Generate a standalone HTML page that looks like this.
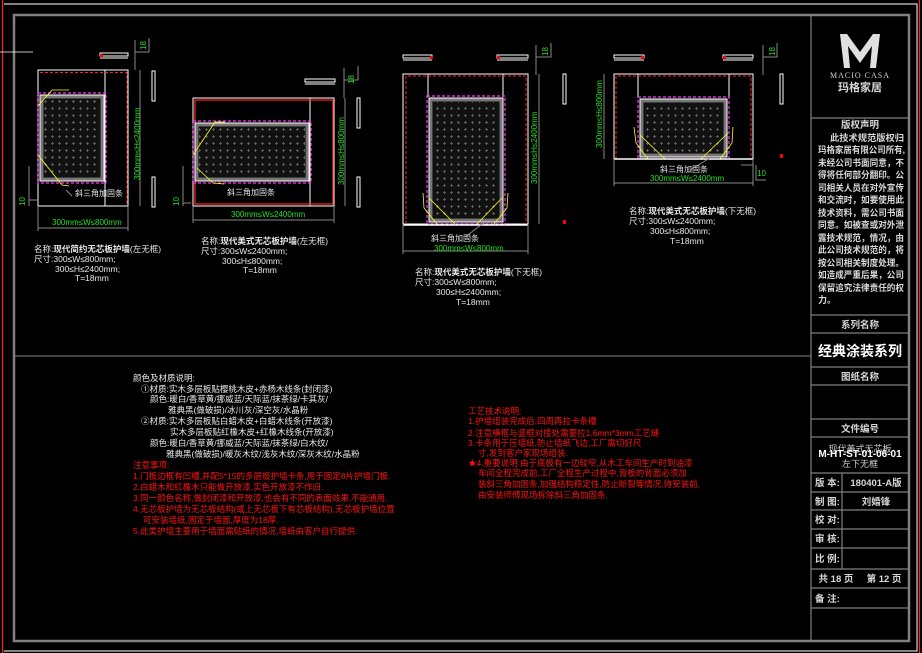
<!DOCTYPE html>
<html><head><meta charset="utf-8"><style>
html,body{margin:0;padding:0;background:#000;}
svg{display:block;}
text{font-family:"Liberation Sans","Noto Sans CJK SC",sans-serif;}
.w{fill:#e8e8e8;font-size:8.5px;}
.r{fill:#ff1010;font-size:8.5px;}
.g{fill:#20e020;font-size:8px;}
.t{fill:#d8d8d8;font-size:9.5px;font-weight:bold;}
</style></head><body>
<svg width="922" height="653" viewBox="0 0 922 653" xmlns="http://www.w3.org/2000/svg">
<defs>
<pattern id="dots" width="7" height="7" patternUnits="userSpaceOnUse">
<rect width="7" height="7" fill="#111"/>
<path d="M3.5 2V5M2 3.5H5" stroke="#6a6a6a" stroke-width="0.8"/>
</pattern>
</defs>
<rect width="922" height="653" fill="#000"/>
<!-- outer frame -->
<line x1="2.5" y1="0" x2="2.5" y2="653" stroke="#ff2020" stroke-width="1.2"/>
<polyline points="4,4 917,4 917,651 4,651" fill="none" stroke="#fff" stroke-width="1"/>
<line x1="919.5" y1="0" x2="919.5" y2="653" stroke="#ff2020" stroke-width="1.2"/>
<rect x="14" y="15" width="895" height="626" fill="none" stroke="#808080" stroke-width="2.5"/>
<line x1="14" y1="356" x2="811" y2="356" stroke="#808080" stroke-width="1"/>
<line x1="0" y1="52" x2="33" y2="52" stroke="#fff" stroke-width="0.8"/>
<!-- title block -->
<g stroke="#808080" stroke-width="1.2" fill="none">
<line x1="811" y1="15" x2="811" y2="641"/>
<line x1="811" y1="118" x2="909" y2="118"/>
<line x1="811" y1="315" x2="909" y2="315"/>
<line x1="811" y1="333" x2="909" y2="333"/>
<line x1="811" y1="367" x2="909" y2="367"/>
<line x1="811" y1="385" x2="909" y2="385"/>
<line x1="811" y1="419" x2="909" y2="419"/>
<line x1="811" y1="437" x2="909" y2="437"/>
<line x1="811" y1="473" x2="909" y2="473"/>
<line x1="811" y1="492" x2="909" y2="492"/>
<line x1="811" y1="510" x2="909" y2="510"/>
<line x1="811" y1="529" x2="909" y2="529"/>
<line x1="811" y1="548" x2="909" y2="548"/>
<line x1="811" y1="569" x2="909" y2="569"/>
<line x1="811" y1="588" x2="909" y2="588"/>
<line x1="811" y1="608" x2="909" y2="608"/>
<line x1="842" y1="473" x2="842" y2="569"/>
</g>
<!-- logo -->
<g fill="#e0e0e0">
<polygon points="840,34 847,34 860,52 873,34 880,34 876,68 870,68 872,46 860,63 848,46 850,68 844,68"/>
</g>
<text x="860" y="78" text-anchor="middle" fill="#d0d0d0" style="font-family:'Liberation Serif',serif;font-size:8px;letter-spacing:1px">MACIO CASA</text>
<text x="860" y="91" text-anchor="middle" class="t" style="font-size:11px">玛格家居</text>
<text x="860" y="128" text-anchor="middle" class="t">版权声明</text>
<g class="t" style="font-size:9px">
<text x="830" y="141" textLength="74" lengthAdjust="spacingAndGlyphs">此技术规范版权归</text>
<text x="818" y="153" textLength="87" lengthAdjust="spacingAndGlyphs">玛格家居有限公司所有,</text>
<text x="818" y="166" textLength="86" lengthAdjust="spacingAndGlyphs">未经公司书面同意，不</text>
<text x="818" y="178" textLength="86" lengthAdjust="spacingAndGlyphs">得将任何部分翻印。公</text>
<text x="818" y="191" textLength="86" lengthAdjust="spacingAndGlyphs">司相关人员在对外宣传</text>
<text x="818" y="203" textLength="86" lengthAdjust="spacingAndGlyphs">和交流时，如要使用此</text>
<text x="818" y="216" textLength="86" lengthAdjust="spacingAndGlyphs">技术资料，需公司书面</text>
<text x="818" y="228" textLength="86" lengthAdjust="spacingAndGlyphs">同意。如被查或对外泄</text>
<text x="818" y="241" textLength="86" lengthAdjust="spacingAndGlyphs">露技术规范，情况，由</text>
<text x="818" y="253" textLength="86" lengthAdjust="spacingAndGlyphs">此公司技术规范的，将</text>
<text x="818" y="266" textLength="86" lengthAdjust="spacingAndGlyphs">按公司相关制度处理。</text>
<text x="818" y="278" textLength="86" lengthAdjust="spacingAndGlyphs">如造成严重后果，公司</text>
<text x="818" y="291" textLength="86" lengthAdjust="spacingAndGlyphs">保留追究法律责任的权</text>
<text x="818" y="303">力。</text>
</g>
<text x="860" y="328" text-anchor="middle" class="t">系列名称</text>
<text x="860" y="356" text-anchor="middle" fill="#fff" style="font-size:14px;font-weight:bold">经典涂装系列</text>
<text x="860" y="380" text-anchor="middle" class="t">图纸名称</text>
<text x="860" y="432" text-anchor="middle" class="t">文件编号</text>
<text x="860" y="452" text-anchor="middle" fill="#d0d0d0" style="font-size:9px">现代美式无芯板</text>
<text x="860" y="457" text-anchor="middle" fill="#fff" style="font-size:10px;font-weight:bold">M-HT-ST-01-06-01</text>
<text x="860" y="467" text-anchor="middle" fill="#d0d0d0" style="font-size:9px">左下无框</text>
<g class="t">
<text x="815" y="486">版 本:</text><text x="876" y="486" text-anchor="middle">180401-A版</text>
<text x="815" y="505">制 图:</text><text x="876" y="505" text-anchor="middle">刘婚锋</text>
<text x="815" y="523">校 对:</text>
<text x="815" y="542">审 核:</text>
<text x="815" y="562">比 例:</text>
<text x="860" y="582" text-anchor="middle">共 18 页 &#160;&#160;&#160; 第 12 页</text>
<text x="815" y="602">备 注:</text>
</g>

<!-- ===== Drawing 1 ===== -->
<g fill="none">
<rect x="38" y="70" width="90" height="136" stroke="#fff" stroke-width="1"/>
<line x1="105" y1="70" x2="105" y2="206" stroke="#fff"/>
<polyline points="40,72.5 127,72.5 127,205" stroke="#ff2020" stroke-dasharray="3,2"/>
<rect x="38" y="93" width="68" height="90" stroke="#ff30ff" stroke-dasharray="3,2" stroke-width="1.2"/>
<rect x="40" y="95" width="64" height="86" stroke="#fff"/>
<rect x="42" y="97" width="60" height="82" fill="#000" stroke="#777" stroke-width="3"/>
<rect x="44" y="99" width="56" height="78" fill="url(#dots)"/>
<path d="M38,106 L52,90 L69,90 M38,155 L62,185 L69,186" stroke="#ffff20" stroke-width="0.8"/>
<line x1="140" y1="70" x2="140" y2="206" stroke="#888"/>
<line x1="38" y1="228" x2="128" y2="228" stroke="#888"/>
<line x1="38" y1="206" x2="38" y2="231" stroke="#888"/>
<line x1="128" y1="206" x2="128" y2="231" stroke="#888"/>
<path d="M100,53 h28 v3 h-28z M100,58 h28" stroke="#fff"/>
<path d="M135,40 v30 M135,52 h14 v-14" stroke="#888"/>
<path d="M152,71 v30 h3 v-30z M152,177 v30 h3 v-30z" stroke="#fff"/>
<path d="M29,206 v-40 M29,200 h8" stroke="#888"/>
<path d="M72,196 l-6,-6" stroke="#888"/>
</g>
<rect x="100" y="54" width="3" height="3" fill="#f00"/>
<text x="138" y="42" class="g" transform="rotate(-90 146 42)">18</text>
<text class="g" x="0" y="0" transform="translate(140,180) rotate(-90)">300mm≤H≤2400mm</text>
<text x="52" y="225" class="g">300mm≤W≤800mm</text>
<text x="75" y="196" class="w" style="font-size:8px">斜三角加固条</text>
<text x="25" y="206" class="g" transform="rotate(-90 25 206)">10</text>
<text x="34" y="252" class="w">名称:<tspan font-weight="bold">现代简约无芯板护墙</tspan>(左无框)</text>
<text x="34" y="262" class="w">尺寸:300≤W≤800mm;</text>
<text x="55" y="272" class="w">300≤H≤2400mm;</text>
<text x="75" y="281" class="w">T=18mm</text>

<!-- ===== Drawing 2 ===== -->
<g fill="none">
<rect x="193" y="98" width="141" height="108" stroke="#fff"/>
<line x1="310" y1="98" x2="310" y2="206" stroke="#fff"/>
<rect x="195" y="100" width="138" height="104" stroke="#ff2020" stroke-width="1.2"/>
<rect x="193" y="121" width="118" height="62" stroke="#ff30ff" stroke-dasharray="3,2" stroke-width="1.2"/>
<rect x="195" y="123" width="114" height="58" stroke="#fff"/>
<rect x="197" y="125" width="110" height="54" fill="#000" stroke="#777" stroke-width="3"/>
<rect x="199" y="127" width="106" height="50" fill="url(#dots)"/>
<path d="M193,155 L215,122 L225,122 M197,168 L213,183 L224,184" stroke="#ffff20" stroke-width="0.8"/>
<line x1="345" y1="98" x2="345" y2="206" stroke="#888"/>
<line x1="193" y1="220" x2="334" y2="220" stroke="#888"/>
<line x1="193" y1="206" x2="193" y2="223" stroke="#888"/>
<line x1="334" y1="206" x2="334" y2="223" stroke="#888"/>
<path d="M305,79 h30 v3 h-30z M305,84 h30" stroke="#fff"/>
<path d="M344,68 v30 M344,80 h14 v-14" stroke="#888"/>
<path d="M357,98 v30 h3 v-30z M357,177 v30 h3 v-30z" stroke="#fff"/>
<path d="M183,206 v-40 M183,203 h8" stroke="#888"/>
</g>
<text x="340" y="70" class="g" transform="rotate(-90 354 70)">18</text>
<text class="g" transform="translate(344,185) rotate(-90)">300mm≤H≤800mm</text>
<text x="231" y="217" class="g">300mm≤W≤2400mm</text>
<text x="227" y="195" class="w" style="font-size:8px">斜三角加固条</text>
<text x="179" y="206" class="g" transform="rotate(-90 179 206)">10</text>
<text x="201" y="244" class="w">名称:<tspan font-weight="bold">现代美式无芯板护墙</tspan>(左无框)</text>
<text x="201" y="254" class="w">尺寸:300≤W≤2400mm;</text>
<text x="222" y="264" class="w">300≤H≤800mm;</text>
<text x="243" y="273" class="w">T=18mm</text>

<!-- ===== Drawing 3 ===== -->
<g fill="none">
<rect x="403" y="74" width="125" height="150" stroke="#fff"/>
<line x1="428" y1="74" x2="428" y2="97" stroke="#fff"/>
<line x1="503" y1="74" x2="503" y2="97" stroke="#fff"/>
<polyline points="406,224 406,76 526,76 526,224" stroke="#ff2020" stroke-dasharray="3,2"/>
<rect x="427" y="96" width="78" height="128" stroke="#ff30ff" stroke-dasharray="3,2" stroke-width="1.2"/>
<rect x="429" y="98" width="74" height="124" stroke="#fff"/>
<rect x="431" y="100" width="70" height="120" fill="#000" stroke="#777" stroke-width="3"/>
<rect x="433" y="102" width="66" height="116" fill="url(#dots)"/>
<path d="M423,193 L424,208 L437,224 M429,198 L455,224 M508,193 L507,208 L494,224 M502,198 L477,224" stroke="#ffff20" stroke-width="0.8"/>
<line x1="403" y1="225" x2="528" y2="225" stroke="#fff" stroke-width="1.5"/>
<line x1="539" y1="74" x2="539" y2="224" stroke="#888"/>
<line x1="403" y1="251" x2="528" y2="251" stroke="#888"/>
<line x1="403" y1="224" x2="403" y2="254" stroke="#888"/>
<line x1="528" y1="224" x2="528" y2="254" stroke="#888"/>
<path d="M403,55 h29 v3 h-29z M403,60 h29 M497,55 h31 v3 h-31z M497,60 h31" stroke="#fff"/>
<path d="M536,45 v30 M536,57 h15 v-14" stroke="#888"/>
<path d="M563,74 v30 h3 v-30z" stroke="#fff"/>
<path d="M465,237 l20,-15" stroke="#888"/>
</g>
<rect x="430" y="56" width="3" height="3" fill="#f00"/><rect x="497" y="56" width="3" height="3" fill="#f00"/>
<rect x="563" y="220" width="3" height="4" fill="#f00"/>
<text x="540" y="48" class="g" transform="rotate(-90 548 48)">18</text>
<text class="g" transform="translate(537,184) rotate(-90)">300mm≤H≤2400mm</text>
<text x="434" y="251" class="g">300mm≤W≤800mm</text>
<text x="431" y="241" class="w" style="font-size:8px">斜三角加固条</text>
<text x="415" y="275" class="w">名称:<tspan font-weight="bold">现代美式无芯板护墙</tspan>(下无框)</text>
<text x="415" y="285" class="w">尺寸:300≤W≤800mm;</text>
<text x="436" y="295" class="w">300≤H≤2400mm;</text>
<text x="456" y="305" class="w">T=18mm</text>

<!-- ===== Drawing 4 ===== -->
<g fill="none">
<rect x="614" y="74" width="139" height="85" stroke="#fff"/>
<line x1="638" y1="74" x2="638" y2="98" stroke="#fff"/>
<line x1="729" y1="74" x2="729" y2="98" stroke="#fff"/>
<polyline points="616,159 616,76 751,76 751,159" stroke="#ff2020" stroke-dasharray="3,2"/>
<rect x="638" y="97" width="91" height="62" stroke="#ff30ff" stroke-dasharray="3,2" stroke-width="1.2"/>
<rect x="640" y="99" width="87" height="58" stroke="#fff"/>
<rect x="642" y="101" width="83" height="54" fill="#000" stroke="#777" stroke-width="3"/>
<rect x="644" y="103" width="79" height="50" fill="url(#dots)"/>
<path d="M634,127 L636,143 L648,159 M640,135 L665,159 M733,127 L732,143 L720,159 M728,133 L701,159" stroke="#ffff20" stroke-width="0.8"/>
<line x1="614" y1="159" x2="753" y2="159" stroke="#fff" stroke-width="1.5"/>
<line x1="604" y1="74" x2="604" y2="159" stroke="#888"/>
<line x1="614" y1="183" x2="753" y2="183" stroke="#888"/>
<line x1="614" y1="159" x2="614" y2="186" stroke="#888"/>
<line x1="753" y1="159" x2="753" y2="186" stroke="#888"/>
<path d="M614,55 h30 v3 h-30z M614,60 h30 M723,55 h30 v3 h-30z M723,60 h30" stroke="#fff"/>
<path d="M763,45 v30 M763,57 h14 v-14" stroke="#888"/>
<path d="M780,74 v30 h3 v-30z" stroke="#fff"/>
<path d="M753,165 h-12 M756,165 v15 h10" stroke="#888"/>
<path d="M690,170 l20,-12" stroke="#888"/>
</g>
<rect x="641" y="56" width="3" height="3" fill="#f00"/><rect x="723" y="56" width="3" height="3" fill="#f00"/>
<rect x="780" y="154" width="3" height="4" fill="#f00"/>
<text x="767" y="48" class="g" transform="rotate(-90 775 48)">18</text>
<text class="g" transform="translate(602,148) rotate(-90)">300mm≤H≤800mm</text>
<text x="650" y="181" class="g">300mm≤W≤2400mm</text>
<text x="660" y="172" class="w" style="font-size:8px">斜三角加固条</text>
<text x="757" y="176" class="g">10</text>
<text x="629" y="214" class="w">名称:<tspan font-weight="bold">现代美式无芯板护墙</tspan>(下无框)</text>
<text x="629" y="224" class="w">尺寸:300≤W≤2400mm;</text>
<text x="650" y="234" class="w">300≤H≤800mm;</text>
<text x="670" y="244" class="w">T=18mm</text>

<!-- ===== Notes ===== -->
<g class="w">
<text x="133" y="381">颜色及材质说明:</text>
<text x="141" y="392">①材质:实木多层板贴樱桃木皮+赤杨木线条(封闭漆)</text>
<text x="150" y="402">颜色:暖白/香草黄/挪威蓝/天际蓝/抹茶绿/卡其灰/</text>
<text x="168" y="413">雅典黑(做破损)/冰川灰/深空灰/水晶粉</text>
<text x="141" y="424">②材质:实木多层板贴白蜡木皮+白蜡木线条(开放漆)</text>
<text x="170" y="435">实木多层板贴红橡木皮+红橡木线条(开放漆)</text>
<text x="150" y="446">颜色:暖白/香草黄/挪威蓝/天际蓝/抹茶绿/白木纹/</text>
<text x="166" y="457">雅典黑(做破损)/暖灰木纹/浅灰木纹/深灰木纹/水晶粉</text>
</g>
<g class="r">
<text x="133" y="468">注意事项:</text>
<text x="133" y="479">1.门板边框有凹槽,并配5*15的多层板护墙卡条,用于固定8片护墙门板.</text>
<text x="133" y="490">2.白蜡木和红橡木只能做开放漆,实色开放漆不作旧.</text>
<text x="133" y="501">3.同一颜色名称,做封闭漆和开放漆,也会有不同的表面效果,不能通用.</text>
<text x="133" y="512">4.无芯板护墙为无芯板结构(或上无芯板下有芯板结构),无芯板护墙位置</text>
<text x="143" y="523">可安装墙纸,固定于墙面,厚度为18厚.</text>
<text x="133" y="534">5.此类护墙主要用于墙面需贴纸的情况,墙纸由客户自行提供.</text>
<text x="468" y="414">工艺技术说明:</text>
<text x="468" y="424">1.护墙组装完成后,四周再拉卡条槽</text>
<text x="468" y="436">2.注意横框与竖框对接处需要拉1.6mm*3mm工艺缝</text>
<text x="468" y="446">3.卡条用于压墙纸,防止墙纸飞边,工厂需切好尺</text>
<text x="478" y="456">寸,发到客户家现场组装.</text>
<text x="468" y="466">★4.重要说明:由于底板有一边较窄,从木工车间生产时到油漆</text>
<text x="478" y="476">车间全程完成前,工厂全程生产过程中,背板的背面必须加</text>
<text x="478" y="487">装斜三角加固条,加强结构稳定性,防止断裂等情况,待安装前,</text>
<text x="478" y="498">由安装师傅现场拆除斜三角加固条.</text>
</g>
</svg>
</body></html>
